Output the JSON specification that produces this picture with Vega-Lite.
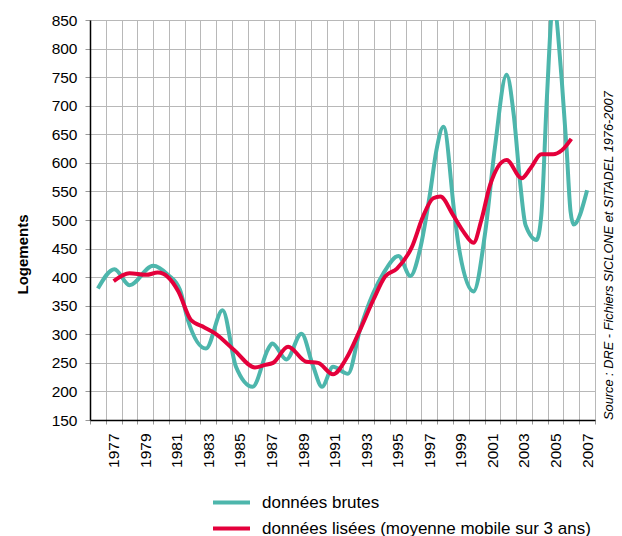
{
  "$schema": "https://vega.github.io/schema/vega-lite/v6.json",
  "width": 505,
  "height": 400,
  "autosize": {"type": "none"},
  "padding": {"left": 90, "top": 20, "right": 27, "bottom": 116},
  "background": "white",
  "config": {
    "font": "Liberation Sans",
    "view": {"stroke": null}
  },
  "title": {
    "text": "Source : DRE - Fichiers SICLONE et SITADEL 1976-2007",
    "orient": "right",
    "anchor": "end",
    "frame": "group",
    "angle": 270,
    "align": "left",
    "baseline": "top",
    "fontSize": 12.8,
    "fontStyle": "italic",
    "fontWeight": "normal",
    "color": "#000000",
    "offset": -21
  },
  "data": {
    "values": [
      {"serie": "données brutes", "annee": 1976.0, "logements": 380},
      {"serie": "données brutes", "annee": 1977.05, "logements": 414},
      {"serie": "données brutes", "annee": 1978.0, "logements": 386},
      {"serie": "données brutes", "annee": 1979.5, "logements": 420},
      {"serie": "données brutes", "annee": 1980.45, "logements": 404},
      {"serie": "données brutes", "annee": 1981.2, "logements": 378},
      {"serie": "données brutes", "annee": 1981.7, "logements": 325},
      {"serie": "données brutes", "annee": 1982.85, "logements": 275},
      {"serie": "données brutes", "annee": 1983.9, "logements": 342},
      {"serie": "données brutes", "annee": 1984.75, "logements": 243},
      {"serie": "données brutes", "annee": 1985.8, "logements": 208},
      {"serie": "données brutes", "annee": 1986.8, "logements": 275},
      {"serie": "données brutes", "annee": 1987.05, "logements": 284},
      {"serie": "données brutes", "annee": 1987.95, "logements": 256},
      {"serie": "données brutes", "annee": 1988.9, "logements": 301},
      {"serie": "données brutes", "annee": 1989.65, "logements": 243},
      {"serie": "données brutes", "annee": 1990.2, "logements": 208},
      {"serie": "données brutes", "annee": 1990.9, "logements": 243},
      {"serie": "données brutes", "annee": 1991.85, "logements": 231},
      {"serie": "données brutes", "annee": 1992.6, "logements": 307},
      {"serie": "données brutes", "annee": 1993.45, "logements": 372},
      {"serie": "données brutes", "annee": 1994.1, "logements": 407},
      {"serie": "données brutes", "annee": 1995.05, "logements": 437},
      {"serie": "données brutes", "annee": 1995.8, "logements": 402},
      {"serie": "données brutes", "annee": 1996.4, "logements": 447},
      {"serie": "données brutes", "annee": 1997.05, "logements": 547},
      {"serie": "données brutes", "annee": 1997.45, "logements": 622},
      {"serie": "données brutes", "annee": 1997.9, "logements": 663},
      {"serie": "données brutes", "annee": 1998.6, "logements": 509},
      {"serie": "données brutes", "annee": 1998.85, "logements": 456},
      {"serie": "données brutes", "annee": 1999.8, "logements": 375},
      {"serie": "données brutes", "annee": 2000.55, "logements": 480},
      {"serie": "données brutes", "annee": 2001.15, "logements": 625},
      {"serie": "données brutes", "annee": 2001.9, "logements": 754},
      {"serie": "données brutes", "annee": 2002.35, "logements": 684},
      {"serie": "données brutes", "annee": 2002.75, "logements": 567},
      {"serie": "données brutes", "annee": 2003.1, "logements": 491},
      {"serie": "données brutes", "annee": 2003.8, "logements": 465},
      {"serie": "données brutes", "annee": 2004.1, "logements": 509},
      {"serie": "données brutes", "annee": 2004.45, "logements": 713},
      {"serie": "données brutes", "annee": 2004.85, "logements": 880},
      {"serie": "données brutes", "annee": 2005.4, "logements": 742},
      {"serie": "données brutes", "annee": 2005.7, "logements": 625},
      {"serie": "données brutes", "annee": 2005.95, "logements": 515},
      {"serie": "données brutes", "annee": 2006.15, "logements": 492},
      {"serie": "données brutes", "annee": 2007.0, "logements": 552},
      {"serie": "données lisées (moyenne mobile sur 3 ans)", "annee": 1977.0, "logements": 393},
      {"serie": "données lisées (moyenne mobile sur 3 ans)", "annee": 1978.0, "logements": 407},
      {"serie": "données lisées (moyenne mobile sur 3 ans)", "annee": 1979.05, "logements": 404},
      {"serie": "données lisées (moyenne mobile sur 3 ans)", "annee": 1979.8, "logements": 408},
      {"serie": "données lisées (moyenne mobile sur 3 ans)", "annee": 1980.45, "logements": 400},
      {"serie": "données lisées (moyenne mobile sur 3 ans)", "annee": 1981.1, "logements": 375},
      {"serie": "données lisées (moyenne mobile sur 3 ans)", "annee": 1981.9, "logements": 325},
      {"serie": "données lisées (moyenne mobile sur 3 ans)", "annee": 1982.75, "logements": 312},
      {"serie": "données lisées (moyenne mobile sur 3 ans)", "annee": 1983.4, "logements": 302},
      {"serie": "données lisées (moyenne mobile sur 3 ans)", "annee": 1984.65, "logements": 272},
      {"serie": "données lisées (moyenne mobile sur 3 ans)", "annee": 1985.95, "logements": 242},
      {"serie": "données lisées (moyenne mobile sur 3 ans)", "annee": 1986.55, "logements": 246},
      {"serie": "données lisées (moyenne mobile sur 3 ans)", "annee": 1987.1, "logements": 250},
      {"serie": "données lisées (moyenne mobile sur 3 ans)", "annee": 1988.05, "logements": 278},
      {"serie": "données lisées (moyenne mobile sur 3 ans)", "annee": 1989.2, "logements": 252},
      {"serie": "données lisées (moyenne mobile sur 3 ans)", "annee": 1989.95, "logements": 250},
      {"serie": "données lisées (moyenne mobile sur 3 ans)", "annee": 1990.9, "logements": 230},
      {"serie": "données lisées (moyenne mobile sur 3 ans)", "annee": 1991.75, "logements": 258},
      {"serie": "données lisées (moyenne mobile sur 3 ans)", "annee": 1992.6, "logements": 307},
      {"serie": "données lisées (moyenne mobile sur 3 ans)", "annee": 1993.45, "logements": 360},
      {"serie": "données lisées (moyenne mobile sur 3 ans)", "annee": 1994.2, "logements": 401},
      {"serie": "données lisées (moyenne mobile sur 3 ans)", "annee": 1994.95, "logements": 415},
      {"serie": "données lisées (moyenne mobile sur 3 ans)", "annee": 1995.9, "logements": 453},
      {"serie": "données lisées (moyenne mobile sur 3 ans)", "annee": 1996.6, "logements": 506},
      {"serie": "données lisées (moyenne mobile sur 3 ans)", "annee": 1997.25, "logements": 538},
      {"serie": "données lisées (moyenne mobile sur 3 ans)", "annee": 1997.7, "logements": 541},
      {"serie": "données lisées (moyenne mobile sur 3 ans)", "annee": 1998.5, "logements": 509},
      {"serie": "données lisées (moyenne mobile sur 3 ans)", "annee": 1999.15, "logements": 480},
      {"serie": "données lisées (moyenne mobile sur 3 ans)", "annee": 1999.8, "logements": 460},
      {"serie": "données lisées (moyenne mobile sur 3 ans)", "annee": 2000.3, "logements": 500},
      {"serie": "données lisées (moyenne mobile sur 3 ans)", "annee": 2000.85, "logements": 561},
      {"serie": "données lisées (moyenne mobile sur 3 ans)", "annee": 2001.9, "logements": 605},
      {"serie": "données lisées (moyenne mobile sur 3 ans)", "annee": 2002.85, "logements": 573},
      {"serie": "données lisées (moyenne mobile sur 3 ans)", "annee": 2003.4, "logements": 590},
      {"serie": "données lisées (moyenne mobile sur 3 ans)", "annee": 2004.1, "logements": 615},
      {"serie": "données lisées (moyenne mobile sur 3 ans)", "annee": 2004.85, "logements": 615},
      {"serie": "données lisées (moyenne mobile sur 3 ans)", "annee": 2005.4, "logements": 622},
      {"serie": "données lisées (moyenne mobile sur 3 ans)", "annee": 2006.0, "logements": 642}
    ]
  },
  "mark": {"type": "line", "interpolate": "monotone", "strokeWidth": 4, "clip": true},
  "encoding": {
    "x": {
      "field": "annee",
      "type": "quantitative",
      "scale": {"domain": [1975.5, 2007.5], "nice": false, "zero": false},
      "axis": {
        "title": null,
        "values": [1975.5, 1976.5, 1977.5, 1978.5, 1979.5, 1980.5, 1981.5, 1982.5, 1983.5, 1984.5, 1985.5, 1986.5, 1987.5, 1988.5, 1989.5, 1990.5, 1991.5, 1992.5, 1993.5, 1994.5, 1995.5, 1996.5, 1997.5, 1998.5, 1999.5, 2000.5, 2001.5, 2002.5, 2003.5, 2004.5, 2005.5, 2006.5, 2007.5],
        "labelExpr": "((datum.value + 0.5) % 2 == 1 && datum.value < 2007) ? '' + (datum.value + 0.5) : ''",
        "grid": true,
        "gridColor": "#b8b8b8",
        "gridWidth": 1,
        "domainColor": "#000000",
        "domainWidth": 1.5,
        "tickColor": "#999999",
        "tickSize": 4,
        "labelAngle": 270,
        "labelAlign": "right",
        "labelBaseline": "middle",
        "labelOffset": 7.9,
        "labelPadding": 9,
        "labelFontSize": 15.5,
        "labelColor": "#000000",
        "labelFlush": false,
        "labelOverlap": false
      }
    },
    "y": {
      "field": "logements",
      "type": "quantitative",
      "scale": {"domain": [150, 850], "nice": false, "zero": false},
      "axis": {
        "title": "Logements",
        "values": [150, 200, 250, 300, 350, 400, 450, 500, 550, 600, 650, 700, 750, 800, 850],
        "grid": true,
        "gridColor": "#b8b8b8",
        "gridWidth": 1,
        "domainColor": "#000000",
        "domainWidth": 1.5,
        "tickColor": "#999999",
        "tickSize": 5,
        "labelPadding": 8,
        "labelFontSize": 15.5,
        "labelColor": "#000000",
        "labelFlush": false,
        "labelOverlap": false,
        "titleFontSize": 15,
        "titleFontWeight": "bold",
        "titleColor": "#000000",
        "titleAngle": 270,
        "titleAlign": "center",
        "titleBaseline": "middle",
        "titleX": -68,
        "titleY": 234
      }
    },
    "color": {
      "field": "serie",
      "type": "nominal",
      "scale": {
        "domain": ["données brutes", "données lisées (moyenne mobile sur 3 ans)"],
        "range": ["#4db6ac", "#e4003b"]
      },
      "legend": {
        "title": null,
        "orient": "none",
        "legendX": 121,
        "legendY": 474,
        "direction": "vertical",
        "symbolType": "stroke",
        "symbolStrokeWidth": 4,
        "symbolSize": 1369,
        "clipHeight": 17,
        "rowPadding": 8,
        "labelFontSize": 17,
        "labelOffset": 10,
        "labelColor": "#000000",
        "labelLimit": 0,
        "padding": 0
      }
    }
  }
}
